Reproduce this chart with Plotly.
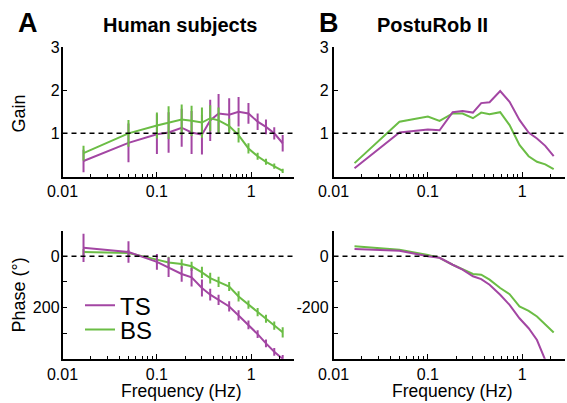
import plotly.graph_objects as go

# ---------------- data ----------------
freq = [0.0167, 0.05, 0.1, 0.133, 0.183, 0.233, 0.3, 0.367, 0.45, 0.583,
        0.733, 0.933, 1.167, 1.43, 1.75, 2.15]

# Panel A - human subjects (mean +/- error)
hum_gain_ts = [0.36, 0.78, 0.98, 1.02, 1.13, 1.02, 0.97, 1.30, 1.46, 1.43, 1.50, 1.46, 1.27, 1.15, 1.00, 0.77]
hum_gain_ts_err = [0.26, 0.45, 0.46, 0.47, 0.44, 0.50, 0.46, 0.48, 0.45, 0.38, 0.34, 0.24, 0.19, 0.17, 0.14, 0.19]
hum_gain_bs = [0.54, 1.00, 1.18, 1.25, 1.32, 1.29, 1.25, 1.35, 1.30, 1.17, 0.96, 0.65, 0.47, 0.34, 0.24, 0.13]
hum_gain_bs_err = [0.17, 0.31, 0.30, 0.38, 0.35, 0.35, 0.35, 0.30, 0.30, 0.17, 0.17, 0.12, 0.08, 0.07, 0.06, 0.05]

hum_phase_ts = [33, 17, -22, -43, -69, -82, -124, -150, -170, -196, -231, -268, -304, -340, -373, -401]
hum_phase_ts_err = [55, 42, 31, 38, 30, 36, 33, 23, 20, 20, 20, 17, 15, 15, 15, 15]
hum_phase_bs = [17, 13, -13, -24, -30, -39, -63, -85, -100, -118, -157, -189, -218, -244, -271, -297]
hum_phase_bs_err = [12, 12, 15, 22, 18, 18, 22, 21, 20, 18, 20, 16, 16, 16, 16, 20]

# Panel B - PostuRob II
rob_gain_ts = [0.19, 1.02, 1.09, 1.07, 1.49, 1.52, 1.48, 1.70, 1.72, 1.98, 1.73, 1.31, 1.02, 0.88, 0.71, 0.47]
rob_gain_bs = [0.31, 1.27, 1.39, 1.29, 1.46, 1.46, 1.35, 1.48, 1.44, 1.49, 1.19, 0.73, 0.47, 0.34, 0.28, 0.17]
rob_phase_ts = [29, 22, 0, -6, -33, -52, -78, -89, -111, -150, -190, -242, -281, -327, -405, None]
rob_phase_bs = [39, 26, 5, -6, -33, -52, -69, -72, -91, -124, -148, -196, -213, -235, -265, -298]

x_tickvals = [0.01, 0.1, 1]
x_ticktext = ["0.01", "0.1", "1"]
gain_tickvals = [0, 1, 2, 3]
gain_ticktext = ["", "1", "2", "3"]
phase_tickvals = [-400, -300, -200, -100, 0, 100]
phase_ticktext_a = ["", "", "200", "", "0", ""]
phase_ticktext_b = ["", "", "-200", "", "0", ""]

PURPLE = "#A346A3"
GREEN = "#6BBD45"
FONT = "Arial, Liberation Sans, sans-serif"

fig = go.Figure()

# Panel A gain
fig.add_trace(go.Scatter(x=freq, y=hum_gain_ts, mode="lines", line=dict(color=PURPLE, width=2),
                         error_y=dict(type="data", array=hum_gain_ts_err, color=PURPLE, thickness=2, width=0),
                         xaxis="x", yaxis="y", showlegend=False))
fig.add_trace(go.Scatter(x=freq, y=hum_gain_bs, mode="lines", line=dict(color=GREEN, width=2),
                         error_y=dict(type="data", array=hum_gain_bs_err, color=GREEN, thickness=2, width=0),
                         xaxis="x", yaxis="y", showlegend=False))
# Panel A phase
fig.add_trace(go.Scatter(x=freq, y=hum_phase_bs, mode="lines", line=dict(color=GREEN, width=2),
                         error_y=dict(type="data", array=hum_phase_bs_err, color=GREEN, thickness=2, width=0),
                         xaxis="x3", yaxis="y3", name="BS", showlegend=True, legend="legend2"))
fig.add_trace(go.Scatter(x=freq, y=hum_phase_ts, mode="lines", line=dict(color=PURPLE, width=2),
                         error_y=dict(type="data", array=hum_phase_ts_err, color=PURPLE, thickness=2, width=0),
                         xaxis="x3", yaxis="y3", name="TS", showlegend=True, legend="legend"))
# Panel B gain
fig.add_trace(go.Scatter(x=freq, y=rob_gain_bs, mode="lines", line=dict(color=GREEN, width=2),
                         xaxis="x2", yaxis="y2", showlegend=False))
fig.add_trace(go.Scatter(x=freq, y=rob_gain_ts, mode="lines", line=dict(color=PURPLE, width=2),
                         xaxis="x2", yaxis="y2", showlegend=False))
# Panel B phase
fig.add_trace(go.Scatter(x=freq, y=rob_phase_bs, mode="lines", line=dict(color=GREEN, width=2),
                         xaxis="x4", yaxis="y4", showlegend=False))
fig.add_trace(go.Scatter(x=freq, y=rob_phase_ts, mode="lines", line=dict(color=PURPLE, width=2),
                         xaxis="x4", yaxis="y4", showlegend=False))

W, H = 567, 403
xa_dom = [62.5 / W, 293.5 / W]
xb_dom = [333.5 / W, 564.5 / W]
yt_dom = [(H - 176.5) / H, (H - 47) / H]
yb_dom = [(H - 358.7) / H, (H - 230.7) / H]

xcommon = dict(type="log", range=[-2, 0.447], tickvals=x_tickvals, ticktext=x_ticktext,
               ticks="inside", ticklen=5, tickwidth=1, tickcolor="black",
               showline=True, linecolor="black", linewidth=1.5, showgrid=False, zeroline=False,
               tickfont=dict(family=FONT, size=16, color="black"), ticklabelstandoff=0,
               minor=dict(ticks="inside", ticklen=3, tickcolor="black", dtick="D1", showgrid=False),
               automargin=False)
ycommon = dict(ticks="inside", ticklen=5, tickwidth=1, tickcolor="black",
               showline=True, linecolor="black", linewidth=1.5, showgrid=False, zeroline=False,
               tickfont=dict(family=FONT, size=16, color="black"),
               automargin=False)

fig.update_layout(
    width=W, height=H, margin=dict(l=0, r=0, t=0, b=0),
    paper_bgcolor="white", plot_bgcolor="white",
    font=dict(family=FONT, color="black"),
    xaxis=dict(domain=xa_dom, anchor="y", **xcommon),
    xaxis2=dict(domain=xb_dom, anchor="y2", **xcommon),
    xaxis3=dict(domain=xa_dom, anchor="y3", **xcommon),
    xaxis4=dict(domain=xb_dom, anchor="y4", **xcommon),
    yaxis=dict(domain=yt_dom, anchor="x", range=[0, 3], tickvals=gain_tickvals, ticktext=gain_ticktext,
               ticklabelstandoff=-2, **ycommon),
    yaxis2=dict(domain=yt_dom, anchor="x2", range=[0, 3], tickvals=gain_tickvals, ticktext=gain_ticktext,
                ticklabelstandoff=0, **ycommon),
    yaxis3=dict(domain=yb_dom, anchor="x3", range=[-400, 100], tickvals=phase_tickvals, ticktext=phase_ticktext_a,
                ticklabelstandoff=-2, **ycommon),
    yaxis4=dict(domain=yb_dom, anchor="x4", range=[-400, 100], tickvals=phase_tickvals, ticktext=phase_ticktext_b,
                ticklabelstandoff=0, **ycommon),
    legend=dict(x=80 / W, y=(H - 305.7) / H, xanchor="left", yanchor="middle",
                bgcolor="rgba(0,0,0,0)", font=dict(family=FONT, size=24, color="black")),
    legend2=dict(x=80 / W, y=(H - 330) / H, xanchor="left", yanchor="middle",
                 bgcolor="rgba(0,0,0,0)", font=dict(family=FONT, size=24, color="black")),
)

# dashed reference lines
for xr, yr, yv in [("x", "y", 1), ("x2", "y2", 1), ("x3", "y3", 0), ("x4", "y4", 0)]:
    fig.add_shape(type="line", xref=xr + " domain", yref=yr, x0=0, x1=1, y0=yv, y1=yv,
                  line=dict(color="black", width=1.5, dash="5px,4px"))

ann = []
def px_ann(text, x, y, size, bold=False, angle=0):
    ann.append(dict(text=("<b>%s</b>" % text) if bold else text, x=x / W, y=(H - y) / H,
                    xref="paper", yref="paper", showarrow=False, xanchor="center", yanchor="middle",
                    textangle=angle, font=dict(family=FONT, size=size, color="black")))

px_ann("A", 27.5, 22.5, 27, bold=True)
px_ann("B", 329, 22.5, 27, bold=True)
px_ann("Human subjects", 180, 25, 20, bold=True)
px_ann("PostuRob II", 432, 25, 20, bold=True)
px_ann("Gain", 18.5, 114, 18, angle=-90)
px_ann("Phase (°)", 18.5, 295, 18, angle=-90)
px_ann("Frequency (Hz)", 181, 391, 17.5)
px_ann("Frequency (Hz)", 452.5, 391, 17.5)
fig.update_layout(annotations=ann)

fig.write_html("out.html", config={"displayModeBar": False},
               post_script="document.body.style.margin='0px';document.body.style.overflow='hidden';")
